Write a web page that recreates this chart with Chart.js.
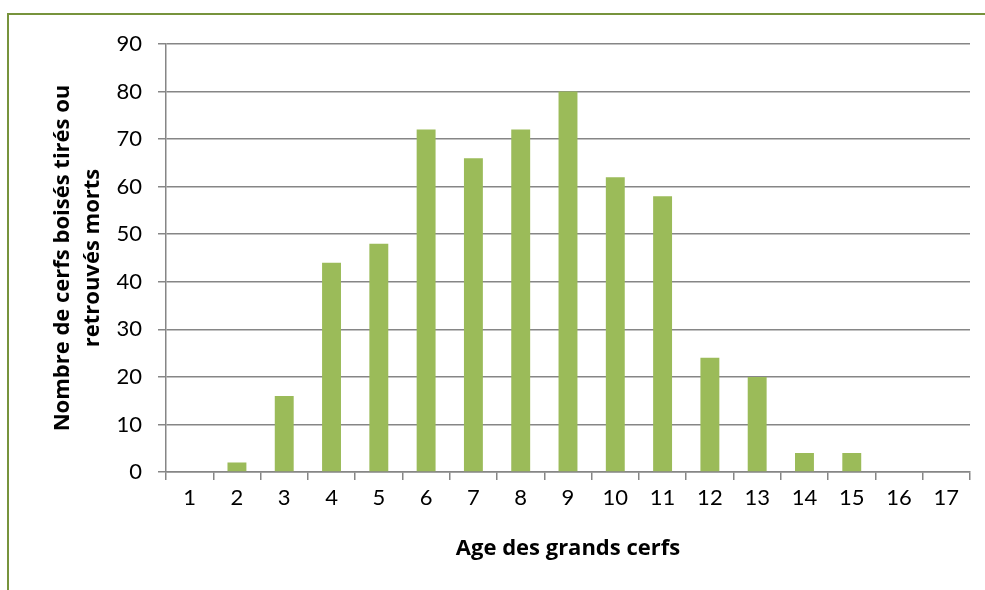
<!DOCTYPE html>
<html>
<head>
<meta charset="utf-8">
<script src="https://cdn.jsdelivr.net/npm/chart.js@4"></script>
<style>
  body { margin: 0; background: #fff; }
  #wrap { position: relative; width: 985px; height: 590px; overflow: hidden; }
  #frame { position: absolute; left: 7px; top: 13px; width: 1100px; height: 700px; border: 2px solid #77933C; }
  canvas { position: absolute; left: 0; top: 0; }
</style>
</head>
<body>
<div id="wrap">
  <div id="frame"></div>
  <canvas id="AgeCerfs" width="985" height="590"></canvas>
</div>
<script>
const ages = ['1', '2', '3', '4', '5', '6', '7', '8', '9', '10', '11', '12', '13', '14', '15', '16', '17'];
const nbCerfs = [0, 2, 16, 44, 48, 72, 66, 72, 80, 62, 58, 24, 20, 4, 4, 0, 0];
const yTicks = [0, 10, 20, 30, 40, 50, 60, 70, 80, 90];

const gridColor = '#868686';
const fontName = 'Lato, Carlito, Calibri, sans-serif';
const titleFont = '"Open Sans", "Noto Sans", sans-serif';

let ctx = document.getElementById('AgeCerfs');

var chartCerfs = new Chart(ctx, {
    type: 'bar',
    data: {
        labels: ages,
        datasets: [{
            label: 'Nombre de cerfs',
            data: nbCerfs,
            backgroundColor: '#9BBB59',
            borderWidth: 0,
            barPercentage: 0.4,
            categoryPercentage: 1
        }]
    },
    options: {
        responsive: false,
        animation: false,
        layout: { padding: { left: 48, right: 15, top: 44, bottom: 28 } },
        plugins: {
            legend: { display: false },
            tooltip: { enabled: false }
        },
        scales: {
            x: {
                grid: {
                    offset: true,
                    drawOnChartArea: false,
                    color: gridColor,
                    lineWidth: 1.5,
                    tickLength: 8
                },
                border: { color: gridColor, width: 1.5 },
                ticks: { color: '#000', font: { family: fontName, size: 22 }, padding: 5, maxRotation: 0 },
                title: {
                    display: true,
                    text: 'Age des grands cerfs',
                    color: '#000',
                    font: { family: titleFont, size: 22, weight: 'bold' },
                    padding: { top: 6, bottom: 0 }
                },
                afterFit: function (s) { s.height = 590 - 472 - 28; }
            },
            y: {
                min: 0,
                max: 90,
                afterBuildTicks: function (s) { s.ticks = yTicks.map(v => ({ value: v })); },
                grid: {
                    color: gridColor,
                    lineWidth: 1.5,
                    tickLength: 8
                },
                border: { color: gridColor, width: 1.5 },
                ticks: { color: '#000', font: { family: fontName, size: 22 }, padding: 16 },
                title: {
                    display: true,
                    text: ['Nombre de cerfs boisés tirés ou', 'retrouvés morts'],
                    color: '#000',
                    font: { family: titleFont, size: 22, weight: 'bold', lineHeight: 1.35 },
                    padding: { top: 0, bottom: 0 }
                },
                afterFit: function (s) { s.width = 166 - 48; }
            }
        }
    }
});
</script>
</body>
</html>
